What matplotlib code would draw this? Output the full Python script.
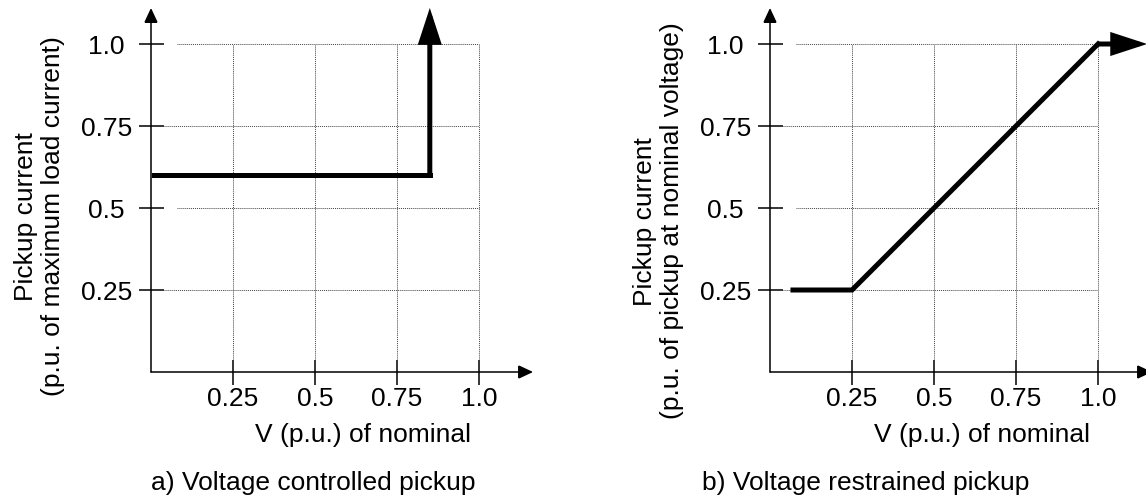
import matplotlib.pyplot as plt

plt.rcParams['font.family'] = 'Liberation Sans'
plt.rcParams['font.size'] = 19

ticks = [0.25, 0.5, 0.75, 1.0]
tick_labels = ['0.25', '0.5', '0.75', '1.0']
# where the horizontal grid lines start (some leave a gap after the tick)
hgrid_start = [0.04, 0.08, 0.04, 0.08]

# a) voltage controlled pickup
vc_v = [0.01, 0.85, 0.85]
vc_i = [0.6, 0.6, 1.11]

# b) voltage restrained pickup
vr_v = [0.07, 0.25, 1.0, 1.15]
vr_i = [0.25, 0.25, 1.0, 1.0]

W, H = 1146, 497
PX = 328  # pixels per p.u.

fig = plt.figure(figsize=(W / 100, H / 100), dpi=100)


def make_axes(x0, xmax, ylabel, caption, cap_x, lab_y):
    ymax = 1.13
    ax = fig.add_axes([x0 / W, 125 / H, xmax * PX / W, ymax * PX / H])
    ax.set_xlim(0, xmax)
    ax.set_ylim(0, ymax)
    for s in ax.spines.values():
        s.set_visible(False)
    ax.patch.set_visible(False)

    # dotted grid
    ax.vlines(ticks, 0.04, 1.0, colors='#444444', lw=0.7, linestyles=(0, (1, 1)))
    ax.hlines(ticks, hgrid_start, 1.0, colors='#444444', lw=0.7, linestyles=(0, (1, 1)))

    # axes with arrow heads
    axis_arrow = dict(arrowstyle='-|>,head_length=0.9,head_width=0.42', mutation_scale=10,
                      lw=1.1, color='black', shrinkA=0, shrinkB=0, joinstyle='miter')
    ax.annotate('', xy=(1.165, 0), xytext=(0, 0), arrowprops=axis_arrow, annotation_clip=False)
    ax.annotate('', xy=(0, 1.11), xytext=(0, 0), arrowprops=axis_arrow, annotation_clip=False)

    ax.set_xticks(ticks, tick_labels)
    ax.set_yticks(ticks, tick_labels)
    ax.tick_params(axis='both', direction='inout', length=18, width=1.1, color='black')
    ax.tick_params(axis='x', pad=2)
    ax.tick_params(axis='y', pad=23)
    for lab in ax.get_yticklabels():
        lab.set_ha('center')

    ax.text(-0.34, lab_y, ylabel, rotation=90, ha='center', va='center', multialignment='center')
    ax.text(0.645, -0.213, 'V (p.u.) of nominal', ha='center', va='baseline')
    ax.text(cap_x, -0.36, caption, ha='left', va='baseline')
    return ax


def draw_curve(ax, v, i):
    ax.plot(v[:-1], i[:-1], color='black', lw=3.6, solid_joinstyle='miter',
            solid_capstyle='projecting', clip_on=False)
    ax.annotate('', xy=(v[-1], i[-1]), xytext=(v[-2], i[-2]),
                arrowprops=dict(arrowstyle='-|>,head_length=1.9,head_width=0.62', mutation_scale=10,
                                lw=3.6, color='black', shrinkA=0, shrinkB=0, capstyle='butt',
                                joinstyle='miter'),
                annotation_clip=False)


ax1 = make_axes(151, 1.2, 'Pickup current\n(p.u. of maximum load current)',
                'a) Voltage controlled pickup', 0.0, 0.475)
draw_curve(ax1, vc_v, vc_i)

ax2 = make_axes(770, 1.15, 'Pickup current\n(p.u. of pickup at nominal voltage)',
                'b) Voltage restrained pickup', -0.207, 0.46)
draw_curve(ax2, vr_v, vr_i)

fig.savefig('out.png', dpi=100)
